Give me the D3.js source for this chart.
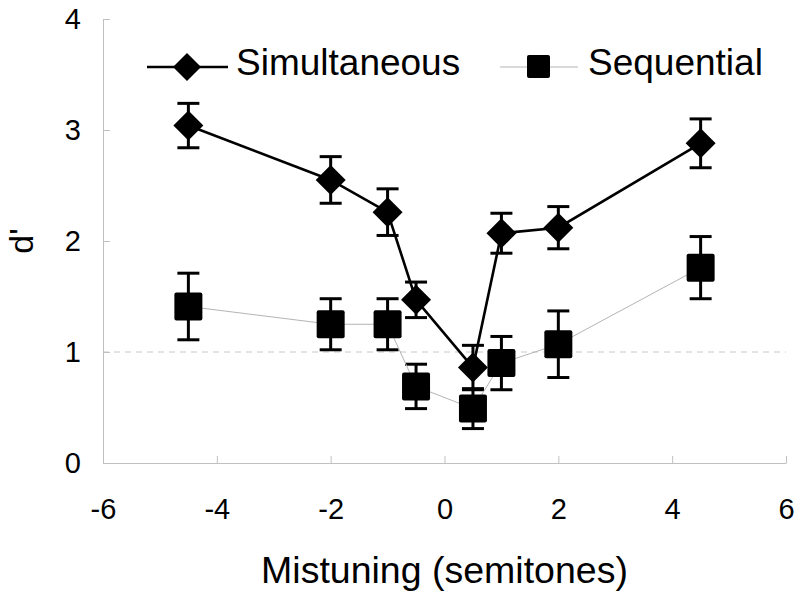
<!DOCTYPE html>
<html>
<head>
<meta charset="utf-8">
<script src="https://cdn.jsdelivr.net/npm/d3@7"></script>
<style>
  html, body { margin: 0; padding: 0; background: #fff; }
  text { font-family: "Liberation Sans", Arial, sans-serif; fill: #000; }
</style>
</head>
<body>
<svg id="chart" width="800" height="596"></svg>
<script>
// ---- data ----
const simX = [-4.5, -2, -1, -0.5, 0.5, 1, 2, 4.5];
const simY = [3.04, 2.55, 2.26, 1.47, 0.86, 2.07, 2.12, 2.88];
const simErr = [0.20, 0.21, 0.21, 0.16, 0.20, 0.18, 0.19, 0.22];

const seqX = [-4.5, -2, -1, -0.5, 0.5, 1, 2, 4.5];
const seqY = [1.41, 1.25, 1.25, 0.69, 0.49, 0.90, 1.07, 1.76];
const seqErr = [0.30, 0.23, 0.23, 0.20, 0.18, 0.24, 0.30, 0.28];

const xTicks = [-6, -4, -2, 0, 2, 4, 6];
const xTickLabels = ["-6", "-4", "-2", "0", "2", "4", "6"];
const yTicks = [0, 1, 2, 3, 4];
const yTickLabels = ["0", "1", "2", "3", "4"];
const refLine = [1];
const seriesNames = ["Simultaneous", "Sequential"];
const xTitle = "Mistuning (semitones)";
const yTitle = "d'";

// ---- layout ----
const svg = d3.select("#chart");
const x = d3.scaleLinear().domain([-6, 6]).range([103, 786]);
const y = d3.scaleLinear().domain([0, 4]).range([463, 19]);
const axisColor = "#c0c0c0";

// reference dashed line
svg.selectAll(".ref").data(refLine).enter().append("line")
  .attr("x1", x(-6)).attr("x2", x(6))
  .attr("y1", d => y(d)).attr("y2", d => y(d))
  .attr("stroke", "#c8c8c8").attr("stroke-width", 1)
  .attr("stroke-dasharray", "6,5");

// axes
const xAxis = d3.axisBottom(x).tickValues(xTicks).tickSizeInner(-7).tickSizeOuter(0)
  .tickFormat((d, i) => xTickLabels[i]);
const gx = svg.append("g").attr("transform", `translate(0,${y(0)})`).call(xAxis);
gx.select(".domain").attr("stroke", axisColor);
gx.selectAll(".tick line").attr("stroke", axisColor);
gx.selectAll(".tick text").style("font-size", "29px")
  .attr("fill", "#000").attr("dy", null).attr("y", 56);

const yAxis = d3.axisLeft(y).tickValues(yTicks).tickSizeInner(-7).tickSizeOuter(0)
  .tickFormat((d, i) => yTickLabels[i]);
const gy = svg.append("g").attr("transform", `translate(${x(-6)},0)`).call(yAxis);
gy.select(".domain").attr("stroke", axisColor);
gy.selectAll(".tick line").attr("stroke", axisColor);
gy.selectAll(".tick text").style("font-size", "29px")
  .attr("fill", "#000").attr("x", -22);

// titles
svg.append("text").attr("x", x(0)).attr("y", 583).attr("text-anchor", "middle")
  .style("font-size", "37.5px").text(xTitle);
svg.append("text").attr("transform", `translate(33,241) rotate(-90)`).attr("text-anchor", "middle")
  .style("font-size", "34px").text(yTitle);

// helpers
function errorBars(xs, ys, es) {
  const g = svg.append("g").attr("stroke", "#000").attr("stroke-width", 3).attr("fill", "none");
  const idx = d3.range(xs.length);
  g.selectAll(".v").data(idx).enter().append("line")
    .attr("x1", i => x(xs[i])).attr("x2", i => x(xs[i]))
    .attr("y1", i => y(ys[i] + es[i])).attr("y2", i => y(ys[i] - es[i]));
  g.selectAll(".t").data(idx).enter().append("line")
    .attr("x1", i => x(xs[i]) - 11).attr("x2", i => x(xs[i]) + 11)
    .attr("y1", i => y(ys[i] + es[i])).attr("y2", i => y(ys[i] + es[i]));
  g.selectAll(".b").data(idx).enter().append("line")
    .attr("x1", i => x(xs[i]) - 11).attr("x2", i => x(xs[i]) + 11)
    .attr("y1", i => y(ys[i] - es[i])).attr("y2", i => y(ys[i] - es[i]));
}
const diamond = (cx, cy, r) => `M${cx},${cy - r}L${cx + r},${cy}L${cx},${cy + r}L${cx - r},${cy}Z`;

// Simultaneous series
const idxSim = d3.range(simX.length);
const lineGen = d3.line().x(d => x(d[0])).y(d => y(d[1]));
errorBars(simX, simY, simErr);
svg.append("path").datum(idxSim.map(i => [simX[i], simY[i]]))
  .attr("d", lineGen).attr("fill", "none").attr("stroke", "#000").attr("stroke-width", 2.6);
svg.selectAll(".dia").data(idxSim).enter().append("path")
  .attr("d", i => diamond(x(simX[i]), y(simY[i]), 15)).attr("fill", "#000");

// Sequential series
const idxSeq = d3.range(seqX.length);
errorBars(seqX, seqY, seqErr);
svg.append("path").datum(idxSeq.map(i => [seqX[i], seqY[i]]))
  .attr("d", lineGen).attr("fill", "none").attr("stroke", "#b4b4b4").attr("stroke-width", 1);
svg.selectAll(".sq").data(idxSeq).enter().append("rect")
  .attr("x", i => x(seqX[i]) - 14).attr("y", i => y(seqY[i]) - 14)
  .attr("width", 28).attr("height", 28).attr("rx", 2).attr("fill", "#000");

// legend
const leg = svg.append("g");
leg.append("line").attr("x1", 147).attr("x2", 228).attr("y1", 67).attr("y2", 67)
  .attr("stroke", "#000").attr("stroke-width", 2.6);
leg.append("path").attr("d", diamond(187, 67, 14)).attr("fill", "#000");
leg.append("text").attr("x", 236).attr("y", 75).style("font-size", "37px").text(seriesNames[0]);

leg.append("line").attr("x1", 500).attr("x2", 578).attr("y1", 67).attr("y2", 67)
  .attr("stroke", "#b4b4b4").attr("stroke-width", 1);
leg.append("rect").attr("x", 527).attr("y", 55).attr("width", 23).attr("height", 23).attr("rx", 2).attr("fill", "#000");
leg.append("text").attr("x", 588).attr("y", 75).style("font-size", "37px").text(seriesNames[1]);
</script>
</body>
</html>
